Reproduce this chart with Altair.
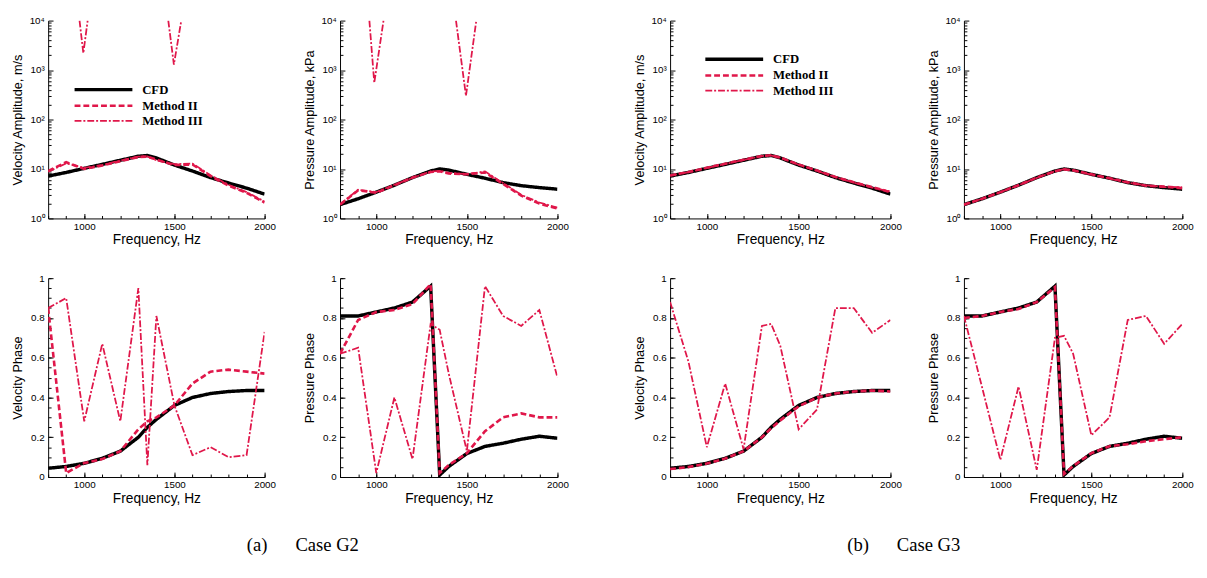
import altair as alt
import pandas as pd

FREQ = [800, 900, 1000, 1100, 1200, 1300, 1350, 1400, 1500, 1600, 1700, 1800, 1900, 2000]
SERIES = ["CFD", "Method II", "Method III"]

# CFD reference
CFD_VEL_AMP = [7.2, 8.5, 10.3, 12.4, 15.0, 18.1, 18.7, 16.7, 12.0, 9.1, 6.7, 5.2, 4.1, 3.1]
CFD_PRE_AMP = [1.9, 2.5, 3.4, 4.7, 6.7, 9.1, 10.0, 9.5, 7.8, 6.5, 5.3, 4.6, 4.2, 3.9]
CFD_VEL_PH = [0.044, 0.053, 0.069, 0.094, 0.13, 0.20, 0.25, 0.29, 0.36, 0.40, 0.42, 0.43, 0.435, 0.435]
CFD_PRE_PH = [0.81, 0.81, 0.83, 0.85, 0.88, 0.96, 0.01, 0.053, 0.118, 0.154, 0.17, 0.19, 0.205, 0.195]

# Case G2
G2_VEL_AMP_M2 = [9.1, 13.7, 10.0, 11.8, 14.4, 17.5, 17.8, 15.5, 12.0, 12.3, 7.2, 4.6, 3.3, 2.1]
G2_VEL_AMP_M3 = [8.8, 13.0, 10.5, 12.0, 14.8, 17.8, 18.0, 15.0, 12.5, 12.8, 7.5, 4.8, 3.4, 2.2]
G2_VEL_SPIKE_F = [[974, 995, 1019], [1466, 1497, 1538]]
G2_VEL_SPIKE_V = [[10000, 2190, 10000], [10000, 1290, 10000]]
G2_PRE_AMP_M2 = [1.9, 3.7, 3.3, 4.7, 6.7, 8.7, 9.0, 8.1, 7.8, 8.5, 5.0, 2.9, 2.0, 1.58]
G2_PRE_AMP_M3 = [1.95, 3.8, 3.4, 4.8, 6.6, 8.9, 9.2, 8.3, 7.9, 8.9, 5.2, 3.0, 2.1, 1.65]
G2_PRE_SPIKE_F = [[962, 989, 1040], [1440, 1495, 1552]]
G2_PRE_SPIKE_V = [[10000, 550, 10000], [10000, 300, 10000]]
G2_VEL_PH_M2 = [0.85, 0.02, 0.07, 0.09, 0.13, 0.24, 0.28, 0.30, 0.36, 0.47, 0.53, 0.54, 0.53, 0.52]
G2_VEL_PH_M3 = [0.85, 0.90, 0.28, 0.67, 0.28, 0.95, 0.06, 0.81, 0.36, 0.11, 0.15, 0.10, 0.11, 0.73]
G2_PRE_PH_M2 = [0.62, 0.79, 0.83, 0.84, 0.87, 0.97, 0.02, 0.06, 0.12, 0.23, 0.30, 0.32, 0.30, 0.30]
G2_PRE_PH_M3 = [0.62, 0.65, 0.02, 0.40, 0.09, 0.77, 0.74, 0.52, 0.13, 0.96, 0.81, 0.76, 0.84, 0.50]

# Case G3
G3_VEL_AMP_M2 = [7.4, 8.7, 10.6, 12.8, 15.4, 18.3, 18.9, 17.0, 12.3, 9.3, 6.9, 5.4, 4.3, 3.4]
G3_VEL_AMP_M3 = [7.3, 8.6, 10.5, 12.6, 15.2, 18.2, 18.8, 16.9, 12.2, 9.2, 6.8, 5.3, 4.2, 3.5]
G3_PRE_AMP_M2 = [1.9, 2.5, 3.4, 4.7, 6.7, 9.0, 9.8, 9.4, 7.8, 6.5, 5.4, 4.6, 4.4, 4.1]
G3_PRE_AMP_M3 = [1.9, 2.5, 3.4, 4.7, 6.6, 9.0, 9.9, 9.4, 7.7, 6.4, 5.3, 4.7, 4.3, 4.3]
G3_VEL_PH_M2 = [0.04, 0.05, 0.068, 0.093, 0.13, 0.20, 0.245, 0.285, 0.355, 0.40, 0.42, 0.43, 0.435, 0.43]
G3_VEL_PH_M3 = [0.88, 0.58, 0.15, 0.47, 0.14, 0.76, 0.77, 0.66, 0.24, 0.34, 0.85, 0.85, 0.725, 0.79]
G3_PRE_PH_M2 = [0.80, 0.81, 0.83, 0.845, 0.88, 0.955, 0.015, 0.055, 0.12, 0.155, 0.165, 0.18, 0.19, 0.20]
G3_PRE_PH_M3 = [0.81, 0.45, 0.086, 0.455, 0.036, 0.70, 0.71, 0.62, 0.21, 0.30, 0.79, 0.81, 0.67, 0.77]

X_TICKS = [1000, 1500, 2000]
X_MINOR = [800, 900, 1000, 1100, 1200, 1300, 1400, 1500, 1600, 1700, 1800, 1900, 2000]
LOG_TICKS = [1, 10, 100, 1000, 10000]
LOG_MINOR = [2, 3, 4, 5, 6, 7, 8, 9, 20, 30, 40, 50, 60, 70, 80, 90,
             200, 300, 400, 500, 600, 700, 800, 900, 2000, 3000, 4000, 5000, 6000, 7000, 8000, 9000]
PH_TICKS = [0, 0.2, 0.4, 0.6, 0.8, 1]
PH_MINOR = [0, 0.05, 0.1, 0.15, 0.2, 0.25, 0.3, 0.35, 0.4, 0.45, 0.5, 0.55, 0.6, 0.65, 0.7, 0.75, 0.8, 0.85, 0.9, 0.95, 1]

BLACK = "#000000"
RED = "#e0174a"
SANS = "Liberation Sans"
SERIF = "Liberation Serif"

SUP = "['\u2070','\u00b9','\u00b2','\u00b3','\u2074']"
LOG_LABEL = "'10' + " + SUP + "[round(log(datum.value)/LN10)]"

Y_EXT = 20  # fixed extent of y tick labels so all plot areas line up
X_EXT = 14


def make_df(cfd, m2, m3, spike_f=None, spike_v=None):
    rows = []
    for f, v in zip(FREQ, cfd):
        rows.append({"freq": f, "value": v, "series": "CFD", "seg": "CFD"})
    for f, v in zip(FREQ, m2):
        rows.append({"freq": f, "value": v, "series": "Method II", "seg": "M2"})
    for f, v in zip(FREQ, m3):
        rows.append({"freq": f, "value": v, "series": "Method III", "seg": "M3"})
    if spike_f:
        for i, (fs, vs) in enumerate(zip(spike_f, spike_v)):
            for f, v in zip(fs, vs):
                rows.append({"freq": f, "value": v, "series": "Method III", "seg": f"S{i}"})
    return pd.DataFrame(rows)


def make_legend(lx, ly):
    return alt.Legend(
        orient="none", legendX=lx, legendY=ly, title=None,
        symbolType="M-6.87,0H1", symbolSize=225,
        labelFont=SERIF, labelFontWeight="bold", labelFontSize=13,
        labelColor="black", labelOffset=8, rowPadding=0, padding=0,
    )


def panel(df, kind, ytitle, W, H, legend=None):
    xsc = alt.Scale(domain=[800, 2000])
    common_y = dict(orient="left", tickSize={"expr": "-5"}, labelFlush=False, labelPadding=9,
                    titlePadding=4, minExtent=Y_EXT, maxExtent=Y_EXT)
    if kind == "amp":
        ysc = alt.Scale(type="log", domain=[1, 10000])
        yax = alt.Axis(values=LOG_TICKS, labelExpr=LOG_LABEL, title=ytitle, **common_y)
        yminor = LOG_MINOR
    else:
        ysc = alt.Scale(domain=[0, 1])
        yax = alt.Axis(values=PH_TICKS, format="~g", title=ytitle, **common_y)
        yminor = PH_MINOR
    xax = alt.Axis(values=X_TICKS, format="d", title="Frequency, Hz", orient="bottom",
                   tickSize={"expr": "-5"}, labelFlush=False, labelPadding=8, titlePadding=1,
                   titleFontSize=14, minExtent=X_EXT, maxExtent=X_EXT)
    lines = alt.Chart(df).mark_line(clip=True).encode(
        x=alt.X("freq:Q", scale=xsc, axis=xax),
        y=alt.Y("value:Q", scale=ysc, axis=yax),
        color=alt.Color("series:N", scale=alt.Scale(domain=SERIES, range=[BLACK, RED, RED]), legend=legend),
        strokeDash=alt.StrokeDash("series:N", scale=alt.Scale(domain=SERIES, range=[[1, 0], [6, 3], [7, 2, 2, 2]]), legend=legend),
        strokeWidth=alt.StrokeWidth("series:N", scale=alt.Scale(domain=SERIES, range=[3.5, 1.8, 1.8]), legend=legend),
        detail="seg:N",
    )
    minor = alt.Chart(df).mark_line(opacity=0, clip=True).encode(
        x=alt.X("freq:Q", scale=xsc, axis=alt.Axis(values=X_MINOR, labels=False, domain=False, title="",
                                                   orient="bottom", tickSize={"expr": "-3"},
                                                   minExtent=0, maxExtent=0)),
        y=alt.Y("value:Q", scale=ysc, axis=alt.Axis(values=yminor, labels=False, domain=False, title="",
                                                    orient="left", tickSize={"expr": "-3"},
                                                    minExtent=0, maxExtent=0)),
    )
    return alt.layer(lines, minor).resolve_axis(x="independent", y="independent").properties(width=W, height=H)


def indep(c):
    return c.resolve_legend(color="independent", strokeDash="independent", strokeWidth="independent")


H_TOP = 202
H_BOT = 203
p1 = panel(make_df(CFD_VEL_AMP, G2_VEL_AMP_M2, G2_VEL_AMP_M3, G2_VEL_SPIKE_F, G2_VEL_SPIKE_V),
           "amp", "Velocity Amplitude, m/s", 221, H_TOP, legend=make_legend(69, 61))
p2 = panel(make_df(CFD_PRE_AMP, G2_PRE_AMP_M2, G2_PRE_AMP_M3, G2_PRE_SPIKE_F, G2_PRE_SPIKE_V),
           "amp", "Pressure Amplitude, kPa", 222, H_TOP)
p3 = panel(make_df(CFD_VEL_PH, G2_VEL_PH_M2, G2_VEL_PH_M3), "phase", "Velocity Phase", 221, H_BOT)
p4 = panel(make_df(CFD_PRE_PH, G2_PRE_PH_M2, G2_PRE_PH_M3), "phase", "Pressure Phase", 222, H_BOT)

p5 = panel(make_df(CFD_VEL_AMP, G3_VEL_AMP_M2, G3_VEL_AMP_M3),
           "amp", "Velocity Amplitude, m/s", 225, H_TOP, legend=make_legend(78, 30))
p6 = panel(make_df(CFD_PRE_AMP, G3_PRE_AMP_M2, G3_PRE_AMP_M3), "amp", "Pressure Amplitude, kPa", 223, H_TOP)
p7 = panel(make_df(CFD_VEL_PH, G3_VEL_PH_M2, G3_VEL_PH_M3), "phase", "Velocity Phase", 225, H_BOT)
p8 = panel(make_df(CFD_PRE_PH, G3_PRE_PH_M2, G3_PRE_PH_M3), "phase", "Pressure Phase", 223, H_BOT)


def col(a, b):
    return indep(alt.vconcat(a, b, spacing=25))


def group(c1, c2, spacing, text, dx):
    return indep(alt.hconcat(c1, c2, spacing=spacing,
                             title=alt.TitleParams(text=text, orient="bottom", anchor="middle",
                                                   font=SERIF, fontSize=19, fontWeight="normal",
                                                   color="black", offset=31, dx=dx)))


gA = group(col(p1, p3), col(p2, p4), 27, "(a)\u2003\u2002Case G2", 13)
gB = group(col(p5, p7), col(p6, p8), 25, "(b)\u2003\u2002Case G3", -10)

chart = indep(alt.hconcat(gA, gB, spacing=65)).properties(
    padding={"left": 3, "top": 1, "right": 5, "bottom": 5},
    background="white",
).configure_axis(
    labelFont=SANS, labelFontSize=10, labelColor="black",
    titleFont=SANS, titleFontSize=13, titleFontWeight="normal", titleColor="black",
    domainColor="black", tickColor="black", domainWidth=1, tickWidth=1, grid=False,
).configure_view(stroke="transparent")

chart.save("out.html", embed_options={"renderer": "svg", "actions": False})
